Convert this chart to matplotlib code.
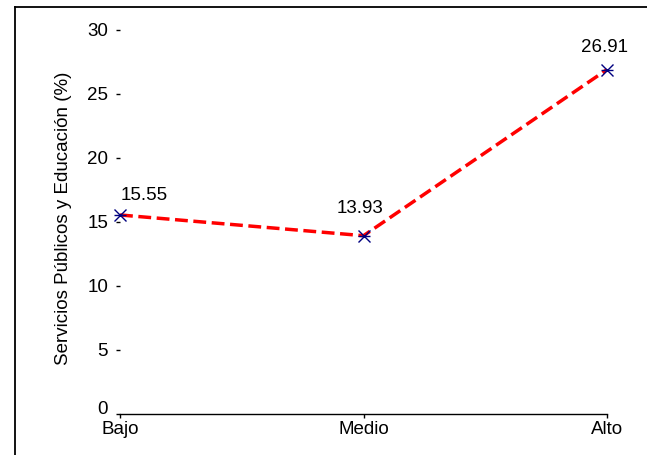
import matplotlib
matplotlib.use("Agg")
import matplotlib.pyplot as plt
import matplotlib.transforms as mtransforms
from matplotlib.lines import Line2D

# Datos del gráfico
niveles = ["Bajo", "Medio", "Alto"]
porcentajes = [15.55, 13.93, 26.91]
ticks_y = [0, 5, 10, 15, 20, 25, 30]
# desplazamiento (px) de cada etiqueta respecto al punto
desplazamientos = [(24, 19), (-3, 27), (-3, 22)]

plt.rcParams["font.family"] = ["Liberation Sans", "DejaVu Sans"]
tam = 13.5

fig = plt.figure(figsize=(6.47, 4.55), dpi=100)
ax = fig.add_axes([120 / 647, 1 - 414 / 455, 487 / 647, 384 / 455])

x = list(range(len(niveles)))
ax.plot(x, porcentajes, color="red", linestyle="--", linewidth=2.5, clip_on=False, zorder=2)
ax.plot(x, porcentajes, linestyle="none", marker="x", color="navy",
        markersize=8, markeredgewidth=1, clip_on=False, zorder=3)
ax.plot(x, porcentajes, linestyle="none", marker="_", color="navy",
        markersize=9, markeredgewidth=1, clip_on=False, zorder=3)

for xi, yi, (dx, dy) in zip(x, porcentajes, desplazamientos):
    ax.annotate(f"{yi:.2f}", (xi, yi), xytext=(dx, dy), textcoords="offset pixels",
                ha="center", va="center", fontsize=tam, annotation_clip=False)

ax.set_xlim(0, 2)
ax.set_ylim(0, 30)
ax.set_xticks(x)
ax.set_xticklabels(niveles, fontsize=tam)
ax.set_yticks(ticks_y)
ax.set_yticklabels([str(t) for t in ticks_y], fontsize=tam)
ax.tick_params(axis="x", length=3, width=1, pad=2)
ax.tick_params(axis="y", length=3, width=1, pad=5.5)

for lado in ["left", "top", "right"]:
    ax.spines[lado].set_visible(False)
ax.spines["bottom"].set_linewidth(1)

# la etiqueta 0 aparece un poco más arriba
etiqueta0 = ax.get_yticklabels()[0]
etiqueta0.set_transform(etiqueta0.get_transform()
                        + mtransforms.ScaledTranslation(0, 7 / 100, fig.dpi_scale_trans))

ax.set_ylabel("Servicios Públicos y Educación (%)", fontsize=tam)
ax.yaxis.set_label_coords(-0.099, 0.509)

# marco de la figura (arriba e izquierda)
fig.add_artist(Line2D([15 / 647, 1], [1 - 7 / 455, 1 - 7 / 455], color="black", linewidth=1.3))
fig.add_artist(Line2D([15 / 647, 15 / 647], [0, 1 - 7 / 455], color="black", linewidth=1.3))

fig.savefig("out.png", dpi=100)
